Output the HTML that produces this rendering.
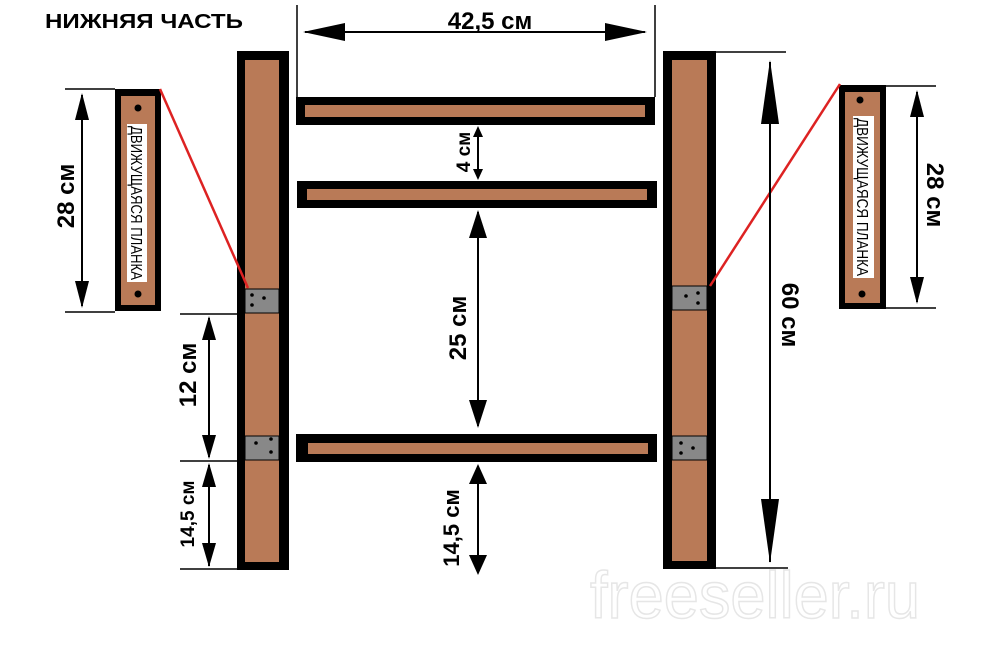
<!DOCTYPE html>
<html><head><meta charset="utf-8"><style>
html,body{margin:0;padding:0;background:#fff;}
svg{display:block;}
text{font-family:"Liberation Sans","DejaVu Sans",sans-serif;}
</style></head><body>
<svg width="1000" height="645" viewBox="0 0 1000 645" xmlns="http://www.w3.org/2000/svg">
<rect width="1000" height="645" fill="#fff"/>
<text x="45" y="28" font-size="20" font-weight="bold" fill="#000" textLength="198" lengthAdjust="spacingAndGlyphs">НИЖНЯЯ ЧАСТЬ</text>

<!-- watermark -->
<text x="590" y="618" font-size="66" fill="none" stroke="#e6e6e6" stroke-width="1.5" textLength="330" lengthAdjust="spacingAndGlyphs" font-family="Liberation Sans Narrow, Liberation Sans, sans-serif">freeseller.ru</text>

<!-- posts -->
<rect x="237" y="51" width="52" height="519" fill="#000"/>
<rect x="245" y="60" width="34" height="502" fill="#b97a57"/>
<rect x="663" y="51" width="53" height="518" fill="#000"/>
<rect x="672" y="60" width="35" height="501" fill="#b97a57"/>

<!-- plates -->
<g fill="#888" stroke="#000" stroke-width="1">
<rect x="245" y="289" width="34" height="24"/>
<rect x="245" y="436" width="34" height="24"/>
<rect x="672" y="286" width="35" height="24"/>
<rect x="672" y="436" width="35" height="24"/>
</g>
<g fill="#000">
<circle cx="252" cy="295" r="1.8"/><circle cx="264" cy="298" r="1.8"/><circle cx="252" cy="305" r="1.8"/>
<circle cx="256" cy="443" r="1.8"/><circle cx="271" cy="439" r="1.8"/><circle cx="271" cy="452" r="1.8"/>
<circle cx="686" cy="296" r="1.8"/><circle cx="698" cy="293" r="1.8"/><circle cx="698" cy="303" r="1.8"/>
<circle cx="681" cy="443" r="1.8"/><circle cx="693" cy="448" r="1.8"/><circle cx="681" cy="453" r="1.8"/>
</g>

<!-- rails -->
<rect x="296" y="97" width="359" height="28" fill="#000"/>
<rect x="305" y="105" width="340" height="12" fill="#b97a57"/>
<rect x="297" y="181" width="360" height="27" fill="#000"/>
<rect x="307" y="189" width="340" height="11" fill="#b97a57"/>
<rect x="296" y="434" width="361" height="28" fill="#000"/>
<rect x="308" y="443" width="340" height="11" fill="#b97a57"/>

<!-- small planks -->
<rect x="115" y="89" width="46" height="222" fill="#000"/>
<rect x="121" y="96" width="34" height="209" fill="#b97a57"/>
<circle cx="138" cy="108" r="3.5" fill="#000"/><circle cx="138" cy="294" r="3.5" fill="#000"/>
<rect x="127" y="124" width="20" height="158" fill="#fff"/>
<text transform="translate(131,203) rotate(90)" text-anchor="middle" font-size="16" fill="#000" textLength="154" lengthAdjust="spacingAndGlyphs">ДВИЖУЩАЯСЯ ПЛАНКА</text>

<rect x="839" y="85" width="47" height="224" fill="#000"/>
<rect x="845" y="92" width="35" height="211" fill="#b97a57"/>
<circle cx="860" cy="100" r="3.5" fill="#000"/><circle cx="862" cy="294" r="3.5" fill="#000"/>
<rect x="853" y="116" width="21" height="162" fill="#fff"/>
<text transform="translate(857,197) rotate(90)" text-anchor="middle" font-size="16" fill="#000" textLength="158" lengthAdjust="spacingAndGlyphs">ДВИЖУЩАЯСЯ ПЛАНКА</text>

<!-- red lines -->
<line x1="160" y1="89" x2="248" y2="288" stroke="#dd2222" stroke-width="2.5"/>
<line x1="840" y1="84" x2="710" y2="286" stroke="#dd2222" stroke-width="2.5"/>

<!-- extension lines -->
<g stroke="#000" stroke-width="1.5">
<line x1="297" y1="5" x2="297" y2="97"/>
<line x1="655" y1="5" x2="655" y2="97"/>
<line x1="65" y1="89" x2="115" y2="89"/>
<line x1="65" y1="312" x2="115" y2="312"/>
<line x1="886" y1="86" x2="936" y2="86"/>
<line x1="886" y1="308" x2="936" y2="308"/>
<line x1="716" y1="52" x2="786" y2="52"/>
<line x1="716" y1="568" x2="788" y2="568"/>
<line x1="180" y1="314" x2="240" y2="314"/>
<line x1="180" y1="461" x2="240" y2="461"/>
<line x1="180" y1="569" x2="240" y2="569"/>
</g>

<!-- dimension lines -->
<g stroke="#000" stroke-width="2">
<line x1="305" y1="32" x2="645" y2="32"/>
<line x1="82" y1="95" x2="82" y2="306"/>
<line x1="917" y1="92" x2="917" y2="302"/>
<line x1="770" y1="62" x2="770" y2="562"/>
<line x1="209" y1="318" x2="209" y2="457"/>
<line x1="209" y1="465" x2="209" y2="566"/>
<line x1="478" y1="128" x2="478" y2="178"/>
<line x1="478" y1="212" x2="478" y2="426"/>
<line x1="478" y1="466" x2="478" y2="572"/>
</g>
<g fill="#000">
<polygon points="303,32 345,23 345,41"/><polygon points="647,32 605,23 605,41"/>
<polygon points="82,93 75,120 89,120"/><polygon points="82,308 75,281 89,281"/>
<polygon points="917,90 910,117 924,117"/><polygon points="917,304 910,277 924,277"/>
<polygon points="770,60 761,124 779,124"/><polygon points="770,563 761,499 779,499"/>
<polygon points="209,316 202,340 216,340"/><polygon points="209,459 202,435 216,435"/>
<polygon points="209,463 202,487 216,487"/><polygon points="209,567 202,543 216,543"/>
<polygon points="478,126 473,137 483,137"/><polygon points="478,180 473,169 483,169"/>
<polygon points="478,210 469,238 487,238"/><polygon points="478,428 469,400 487,400"/>
<polygon points="478,464 469,484 487,484"/><polygon points="478,575 469,555 487,555"/>
</g>

<!-- labels -->
<g font-weight="bold" fill="#000">
<text x="490" y="29" text-anchor="middle" font-size="24">42,5 см</text>
<text transform="translate(74,196) rotate(-90)" text-anchor="middle" font-size="24">28 см</text>
<text transform="translate(927,195) rotate(90)" text-anchor="middle" font-size="24">28 см</text>
<text transform="translate(782,315) rotate(90)" text-anchor="middle" font-size="24">60 см</text>
<text transform="translate(196,375) rotate(-90)" text-anchor="middle" font-size="24">12 см</text>
<text transform="translate(194,514) rotate(-90)" text-anchor="middle" font-size="19">14,5 см</text>
<text transform="translate(470,152) rotate(-90)" text-anchor="middle" font-size="19">4 см</text>
<text transform="translate(466,328) rotate(-90)" text-anchor="middle" font-size="24">25 см</text>
<text transform="translate(459,528) rotate(-90)" text-anchor="middle" font-size="22">14,5 см</text>
</g>
</svg>
</body></html>
